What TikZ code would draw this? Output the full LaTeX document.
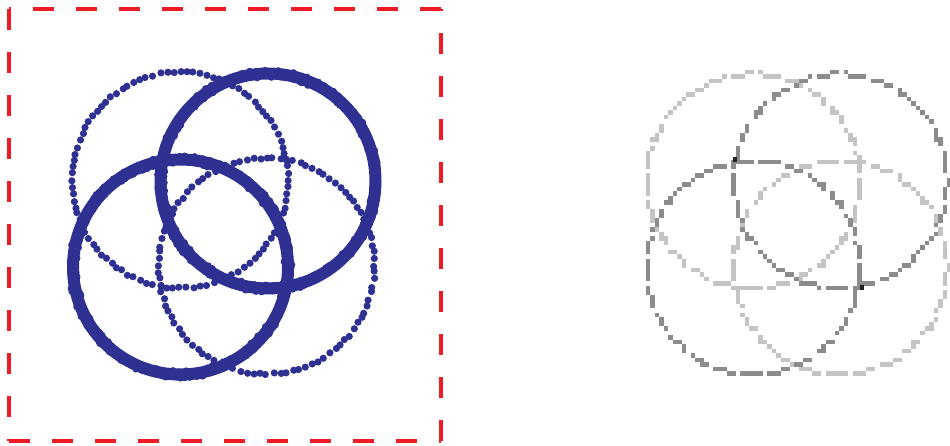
\documentclass[tikz,border=0pt]{standalone}
\definecolor{dotblue}{HTML}{2E3192}
\definecolor{dashred}{HTML}{ED1C24}
\definecolor{pixlight}{HTML}{C4C4C4}
\definecolor{pixdark}{HTML}{8C8C8C}
\definecolor{pixblack}{HTML}{222222}
\tikzset{
  frameline/.style={dashred, line width=3.8pt, dash pattern=on 21pt off 22pt},
}
\begin{document}
\begin{tikzpicture}[x=1pt,y=-1pt]
\useasboundingbox (0,0) rectangle (950,446);
\fill[white] (0,0) rectangle (950,446);
% dashed frame
\draw[frameline] (9.3,9.3) -- (9.3,440.7);
\draw[frameline] (9.3,440.7) -- (440.7,440.7);
\draw[frameline] (440.7,440.7) -- (440.7,9.3);
\draw[frameline] (440.7,9.3) -- (9.3,9.3);
\pgfmathsetseed{7}
% thin dotted circles
\foreach \cx/\cy in {180/180, 266.5/266} {
  \foreach \i in {1,...,100} {
    \pgfmathsetmacro\ang{\i*3.6 + rand*0.9}
    \pgfmathsetmacro\rad{108 + 0.9*rand}
    \fill[dotblue] ({\cx + \rad*cos(\ang)}, {\cy + \rad*sin(\ang)}) circle[radius=3.6pt];
  }
}
% thick dotted circles
\foreach \cx/\cy in {268/181, 180.5/267} {
  \draw[dotblue, line width=12pt] (\cx,\cy) circle[radius=107.5pt];
  \foreach \i in {1,...,420} {
    \pgfmathsetmacro\ang{\i*0.85714 + rand*0.5}
    \pgfmathsetmacro\rad{107.5 + 4*rand}
    \fill[dotblue] ({\cx + \rad*cos(\ang)}, {\cy + \rad*sin(\ang)}) circle[radius=3.4pt];
  }
}
% pixelated circles (right)
\foreach \cx/\cy/\col in {753.5/181/pixlight, 840.5/267.5/pixlight, 840.5/181/pixdark, 753.5/267.5/pixdark} {
  \foreach \i in {0,...,149} {
    \pgfmathtruncatemacro\skp{mod(\i,6)}
    \ifnum\skp<5
      \pgfmathsetmacro\pxx{round((\cx+107*cos(\i*2.4))/4.5)*4.5}
      \pgfmathsetmacro\pyy{round((\cy+107*sin(\i*2.4))/4.5)*4.5}
      \fill[\col] (\pxx-2.25,\pyy-2.25) rectangle ++(4.5,4.5);
    \fi
  }
}
\fill[pixblack] (732.5,157.5) rectangle ++(4.5,4.5);
\fill[pixblack] (859.5,285.5) rectangle ++(4.5,4.5);
\end{tikzpicture}
\end{document}
